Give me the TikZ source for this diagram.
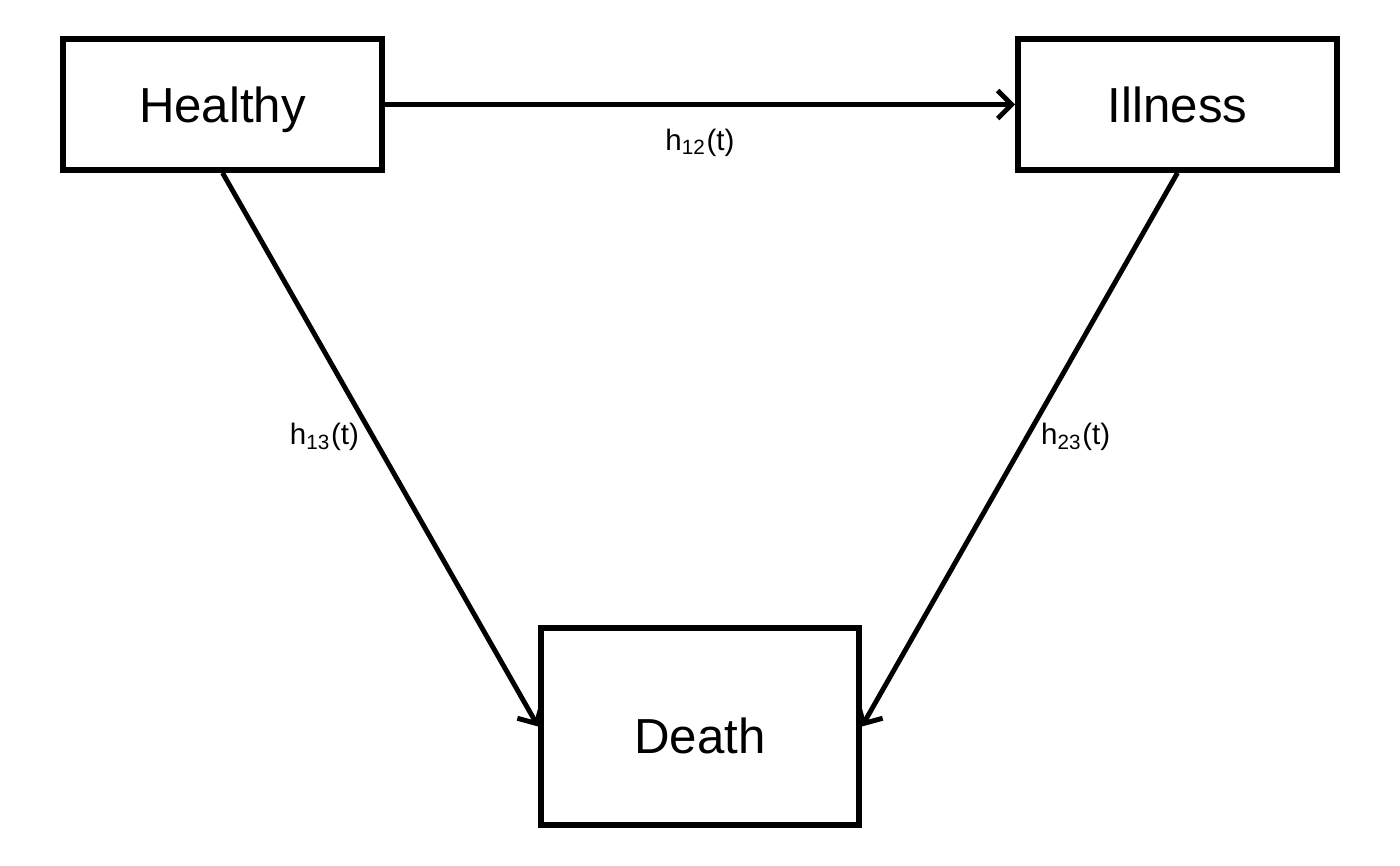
\documentclass[tikz,border=0pt]{standalone}
\usepackage{fontspec}
\setmainfont{Liberation Sans}
\usetikzlibrary{arrows.meta,positioning}

\begin{document}
\begin{tikzpicture}[->,>={Straight Barb[length=1.4mm,width=2.8mm]},line width=1.4pt,
                    node distance=9.55cm,
                    state/.style={draw,rectangle,line width=1.6pt,minimum width=3.19cm,
                                  minimum height=1.31cm,text height=0.36cm,text depth=0cm,
                                  font=\fontsize{14}{17}\selectfont},
                    rate/.style={font=\fontsize{8.4}{10}\selectfont}]

	\useasboundingbox (0,0) rectangle (14,-8.65);

  	\node[state] (H) at (2.225,-1.045)		{Healthy};
  	\node[state] (I) [right of=H]			{Illness};
	\node[state,minimum width=3.18cm,minimum height=1.97cm,text height=0.54cm] (D) at (7,-7.265)	{Death};

  	\path (H) edge				node[rate,below=0.1cm] {h\textsubscript{12}(t)} (I);
	\path (H.south) edge		node[rate,pos=0.477,left=0cm] {h\textsubscript{13}(t)} (D.west);
	\path (I.south) edge		node[rate,pos=0.477,right=0cm] {h\textsubscript{23}(t)} (D.east);

\end{tikzpicture}
\end{document}
